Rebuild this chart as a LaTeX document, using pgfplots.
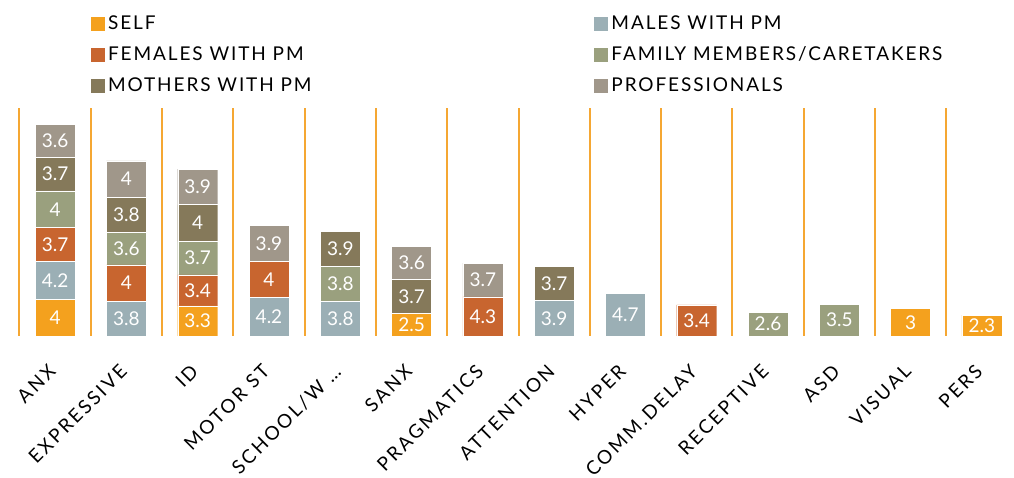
\documentclass[border=0pt]{standalone}
\usepackage{fontspec}
\setmainfont{Lato}
\usepackage{pgfplots}
\pgfplotsset{compat=1.18}
\definecolor{cself}{HTML}{F4A11E}
\definecolor{cmale}{HTML}{9BAFB5}
\definecolor{cfem}{HTML}{C8652F}
\definecolor{cfam}{HTML}{9AA07E}
\definecolor{cmoth}{HTML}{85795A}
\definecolor{cprof}{HTML}{A0978A}
\definecolor{cgrid}{HTML}{F5A733}
\pgfplotsset{
  sqleg/.style={legend image code/.code={\fill[#1] (0pt,-6.5pt) rectangle (13pt,6.5pt);}},
}
\begin{document}
\begin{tikzpicture}
\begin{axis}[
  at={(0.5pt,0)}, anchor=south west,
  scale only axis, width=998pt, height=228pt,
  xmin=-0.5, xmax=13.5, ymin=0, ymax=25,
  ybar stacked, bar width=40pt,
  axis line style={draw=none},
  ytick=\empty,
  xtick={0,1,2,3,4,5,6,7,8,9,10,11,12,13},
  xticklabels={ANX,EXPRESSIVE,ID,MOTOR ST,SCHOOL/W …,SANX,PRAGMATICS,ATTENTION,HYPER,COMM.DELAY,RECEPTIVE,ASD,VISUAL,PERS},
  major tick length=0pt,
  minor tick length=0pt,
  xticklabel style={xshift=-8pt, yshift=-27pt, rotate=45, anchor=north east, inner sep=0pt,
    font=\fontsize{19}{19}\selectfont\addfontfeatures{LetterSpace=13}},
  minor xtick={-0.5,0.5,1.5,2.5,3.5,4.5,5.5,6.5,7.5,8.5,9.5,10.5,11.5,12.5},
  xminorgrids=true,
  minor grid style={draw=cgrid, line width=2pt},
  /pgf/number format/assume math mode=true,
  nodes near coords={\pgfmathfloatifflags{\pgfplotspointmeta}{0}{}{\pgfmathprintnumber{\pgfplotspointmeta}}},
  every node near coord/.append style={font=\fontsize{19}{19}\selectfont, text=white, anchor=center, inner sep=0pt},
  legend columns=2,
  legend cell align=left,
  legend style={draw=none, fill=none, inner sep=0pt, at={(axis description cs:0.0711,1.405)}, anchor=north west,
    font=\fontsize{19}{19}\selectfont\addfontfeatures{LetterSpace=10}, column sep=4pt, row sep=15.5pt,
    nodes={inner sep=0pt}},
]
\addplot[fill=cself, draw=white, line width=0.4pt, sqleg=cself] coordinates {(0,4) (1,0) (2,3.3) (3,0) (4,0) (5,2.5) (6,0) (7,0) (8,0) (9,0) (10,0) (11,0) (12,3) (13,2.3)};
\addlegendentry{\makebox[482pt][l]{SELF}}
\addplot[fill=cmale, draw=white, line width=0.4pt, sqleg=cmale] coordinates {(0,4.2) (1,3.8) (2,0) (3,4.2) (4,3.8) (5,0) (6,0) (7,3.9) (8,4.7) (9,0) (10,0) (11,0) (12,0) (13,0)};
\addlegendentry{MALES WITH PM}
\addplot[fill=cfem, draw=white, line width=0.4pt, sqleg=cfem] coordinates {(0,3.7) (1,4) (2,3.4) (3,4) (4,0) (5,0) (6,4.3) (7,0) (8,0) (9,3.4) (10,0) (11,0) (12,0) (13,0)};
\addlegendentry{\makebox[482pt][l]{FEMALES WITH PM}}
\addplot[fill=cfam, draw=white, line width=0.4pt, sqleg=cfam] coordinates {(0,4) (1,3.6) (2,3.7) (3,0) (4,3.8) (5,0) (6,0) (7,0) (8,0) (9,0) (10,2.6) (11,3.5) (12,0) (13,0)};
\addlegendentry{FAMILY MEMBERS/CARETAKERS}
\addplot[fill=cmoth, draw=white, line width=0.4pt, sqleg=cmoth] coordinates {(0,3.7) (1,3.8) (2,4) (3,0) (4,3.9) (5,3.7) (6,0) (7,3.7) (8,0) (9,0) (10,0) (11,0) (12,0) (13,0)};
\addlegendentry{\makebox[482pt][l]{MOTHERS WITH PM}}
\addplot[fill=cprof, draw=white, line width=0.4pt, sqleg=cprof] coordinates {(0,3.6) (1,4) (2,3.9) (3,3.9) (4,0) (5,3.6) (6,3.7) (7,0) (8,0) (9,0) (10,0) (11,0) (12,0) (13,0)};
\addlegendentry{PROFESSIONALS}
\end{axis}
\pgfresetboundingbox
\path (-19pt,-142pt) rectangle (995pt,336pt);
\end{tikzpicture}
\end{document}
